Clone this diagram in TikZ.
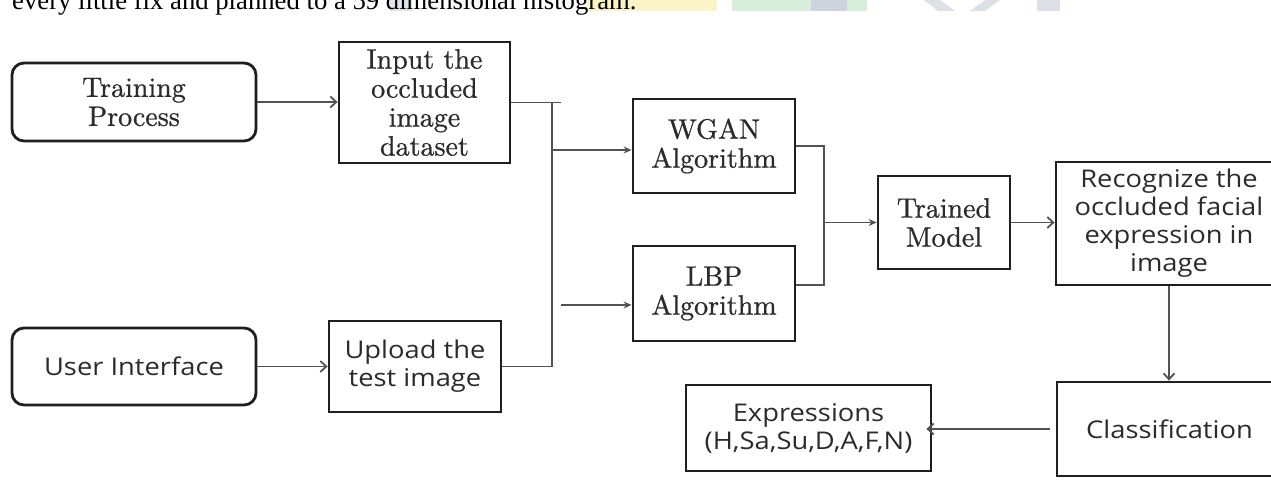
\documentclass[tikz,border=0pt]{standalone}
\usepackage{fontspec}
\newfontfamily\osans[FakeStretch=1.12]{Open Sans}
\newfontfamily\tms{Liberation Serif}
\newfontfamily\lmten[FakeBold=0.8]{lmroman10-regular.otf}
\usetikzlibrary{arrows.meta}
\definecolor{txt}{HTML}{2B2B2B}
\definecolor{hlyellow}{HTML}{FBF4C6}
\definecolor{hlgreen}{HTML}{D7EEDD}
\definecolor{wmgray}{HTML}{CDD3DD}
\begin{document}
\begin{tikzpicture}[x=1pt,y=-1pt,
  box/.style={draw=black!88, line width=2.8pt, align=center, text=txt, inner sep=0pt},
  rbox/.style={box, rounded corners=12pt},
  serif/.style={font=\lmten\fontsize{28}{29}\selectfont},
  sans/.style={font=\osans\fontsize{24.4}{28}\selectfont},
  conn/.style={draw=black!68, line width=1.8pt},
  fa/.style={conn, -{Stealth[length=8pt,width=7pt]}},
  oa/.style={conn, -{Straight Barb[length=6pt,width=11pt]}},
]
\useasboundingbox (0,0) rectangle (1271,485);
\clip (0,0) rectangle (1271,485);

% scanned page fragments at the top
\fill[hlyellow] (587,0) rectangle (717,11);
\fill[hlgreen] (732,0) rectangle (867,11);
\fill[wmgray] (811,0) rectangle (847,11);
\fill[wmgray!60] (390,0) rectangle (412,11);
\fill[wmgray!70] (924,0) -- (940,0) -- (955,11) -- (938,11) -- cycle;
\fill[wmgray!70] (985,0) -- (1000,0) -- (985,11) -- (970,11) -- cycle;
\fill[wmgray!70] (1037,0) rectangle (1060,11);
\node[anchor=base west, inner sep=0pt, font=\tms\fontsize{26.7}{30}\selectfont, text=black] (toptext) at (12,9)
  {every little fix and planned to a 59 dimensional histogram.};

% nodes
\node[rbox, serif, minimum width=244pt, minimum height=78pt] (train) at (134,102) {Training\\Process};
\node[box, serif, minimum width=171pt, minimum height=121pt] (input) at (424.5,102.5) {Input the\\occluded\\image\\dataset};
\node[rbox, sans, minimum width=244pt, minimum height=77pt] (user) at (134,366.5) {User Interface};
\node[box, sans, minimum width=172pt, minimum height=91pt] (upload) at (415,366.5) {Upload the\\test image};
\node[box, serif, minimum width=162pt, minimum height=94pt] (wgan) at (714,146) {WGAN\\Algorithm};
\node[box, serif, minimum width=162pt, minimum height=95pt] (lbp) at (714,293.5) {LBP\\Algorithm};
\node[box, serif, minimum width=132pt, minimum height=93pt] (trained) at (944,222.5) {Trained\\Model};
\node[box, sans, minimum width=226pt, minimum height=123pt] (recog) at (1169,223.5) {Recognize the\\occluded facial\\expression in\\image};
\node[box, sans, minimum width=225pt, minimum height=94pt] (classif) at (1169.5,429) {Classification};
\node[box, sans, minimum width=245pt, minimum height=86pt] (expr) at (808.5,428) {Expressions\\(H,Sa,Su,D,A,F,N)};

% junction coordinates
\coordinate (jtop) at (561,103);
\coordinate (vtop) at (552,103);
\coordinate (bw) at (552,150);
\coordinate (bl) at (561,305);
\coordinate (mx) at (824,222.5);
\coordinate (lbpout) at ([yshift=8.5pt]lbp.east);

% connectors
\draw[oa] (train.east) -- (train.east -| input.west);
\draw[oa] (user.east) -- (user.east -| upload.west);
\draw[conn] (input.east) -- (input.east -| jtop);
\draw[conn] (upload.east) -- (upload.east -| vtop) -- (vtop);
\draw[fa] (bw) -- (bw -| wgan.west);
\draw[fa] (bl) -- (bl -| lbp.west);
\draw[conn] (wgan.east) -- (wgan.east -| mx) -- (mx |- lbpout) -- (lbpout);
\draw[fa] (mx) -- (mx -| trained.west);
\draw[oa] (trained.east) -- (trained.east -| recog.west);
\draw[oa] (recog.south) -- (recog.south |- classif.north);
\draw[oa] ([xshift=-6pt]classif.west) -- ([xshift=-6pt]classif.west -| expr.east);
\end{tikzpicture}
\end{document}
